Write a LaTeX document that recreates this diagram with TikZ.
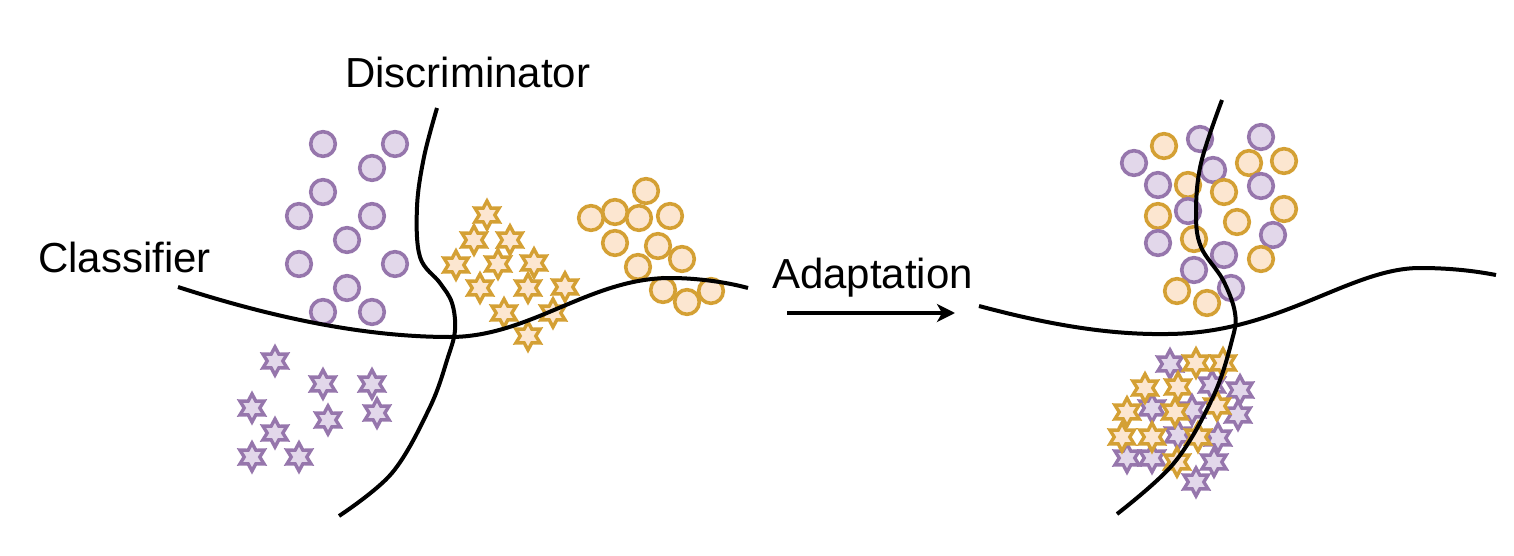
\documentclass[tikz,border=0pt]{standalone}
\usepackage{fontspec}
\setmainfont{Liberation Sans}
\usetikzlibrary{arrows.meta}
\definecolor{pstroke}{RGB}{150,118,172}
\definecolor{pfill}{RGB}{226,215,234}
\definecolor{ostroke}{RGB}{212,160,52}
\definecolor{ofill}{RGB}{252,230,208}
\tikzset{
  lbl/.style={font=\fontsize{42}{50}\selectfont, inner sep=0pt, anchor=base west},
  curve/.style={line width=4pt, line cap=butt},
  pcirc/.style={draw=pstroke, fill=pfill, line width=3.6pt},
  ocirc/.style={draw=ostroke, fill=ofill, line width=3.6pt},
  pstarst/.style={draw=pstroke, fill=pfill, line width=3.4pt, line join=miter},
  ostarst/.style={draw=ostroke, fill=ofill, line width=3.4pt, line join=miter},
  hexstar/.pic={\path[pic actions] (90:14) -- (120:7.8) -- (150:14) -- (180:7.8) -- (210:14) -- (240:7.8) -- (270:14) -- (300:7.8) -- (330:14) -- (0:7.8) -- (30:14) -- (60:7.8) -- cycle;}
}
\begin{document}
\begin{tikzpicture}[x=1pt,y=-1pt]
\useasboundingbox (0,0) rectangle (1514,556);

% ---------- left panel ----------
% purple circles
\foreach \x/\y in {323/144,395/144,372/168,323/192,299/216,372/216,347/240,299/264,395/264,347/288,323/312,372/312}
  \draw[pcirc] (\x,\y) circle (12.3);
% orange circles
\foreach \x/\y in {646/191,591/218,615/212,639/218,670/216,615/243,658/246,682/259,638/267,663/290,687/302,711/291}
  \draw[ocirc] (\x,\y) circle (12.3);
% orange stars
\foreach \x/\y in {487/215,474/240,510/240,456/265,498/264,534/263,480/288,528/288,565/287,504/313,553/313,528/336}
  \pic[ostarst] at (\x,\y) {hexstar};
% purple stars
\foreach \x/\y in {275/361,323/384,372/384,252/408,328/420,377/413,275/433,252/457,299/457}
  \pic[pstarst] at (\x,\y) {hexstar};

% classifier and discriminator (left)
\draw[curve] (178,287) .. controls (280,320) and (370,337) .. (450,337)
  .. controls (530,337) and (590,278) .. (670,278)
  .. controls (700,278) and (730,283) .. (748,288);
\draw[curve] plot[smooth, tension=0.6] coordinates {(437,108) (424,157) (417,207) (420,257) (440,283) (452,303) (455,330) (448,357) (430,407) (392,473) (339,516)};

% ---------- right panel ----------
% circles
\foreach \x/\y in {1164/146,1249/163,1284/161}
  \draw[ocirc] (\x,\y) circle (12.3);
\foreach \x/\y in {1200/139,1261/137,1134/163,1213/170,1158/185,1261/186}
  \draw[pcirc] (\x,\y) circle (12.3);
\foreach \x/\y in {1188/185,1224/192,1158/216,1284/209,1237/222}
  \draw[ocirc] (\x,\y) circle (12.3);
\foreach \x/\y in {1188/211,1158/243,1273/235,1224/255,1194/270,1231/288}
  \draw[pcirc] (\x,\y) circle (12.3);
\foreach \x/\y in {1194/239,1261/259,1177/291,1207/303}
  \draw[ocirc] (\x,\y) circle (12.3);

% stars
\foreach \x/\y in {1170/364,1212/385,1240/390,1152/408,1238/415}
  \pic[pstarst] at (\x,\y) {hexstar};
\foreach \x/\y in {1196/363,1223/363,1145/388,1178/387,1217/406,1127/412}
  \pic[ostarst] at (\x,\y) {hexstar};
\foreach \x/\y in {1192/410,1178/435,1218/438,1127/458,1152/458,1214/462,1196/482}
  \pic[pstarst] at (\x,\y) {hexstar};
\foreach \x/\y in {1175/412,1122/437,1152/437,1198/437,1177/462}
  \pic[ostarst] at (\x,\y) {hexstar};

% classifier and discriminator (right)
\draw[curve] (979,306) .. controls (1050,325) and (1110,335) .. (1168,334)
  .. controls (1280,333) and (1350,268) .. (1420,268)
  .. controls (1455,268) and (1480,272) .. (1496,275);
\draw[curve] plot[smooth, tension=0.6] coordinates {(1222,100) (1201,163) (1196,213) (1201,247) (1223,280) (1235,313) (1232,340) (1213,397) (1174,463) (1117,514)};

% ---------- labels ----------
\node[lbl] (disc) at (345,88) {Discriminator};
\node[lbl] (clf) at (38,272) {Classifier};
\node[lbl] (adapt) at (772,288) {Adaptation};

% arrow
\coordinate (arrS) at (787,313);
\coordinate (arrE) at (955,313);
\draw[line width=4pt, -{Stealth[length=18pt, width=18pt, inset=5pt]}] (arrS) -- (arrE);
\end{tikzpicture}
\end{document}
